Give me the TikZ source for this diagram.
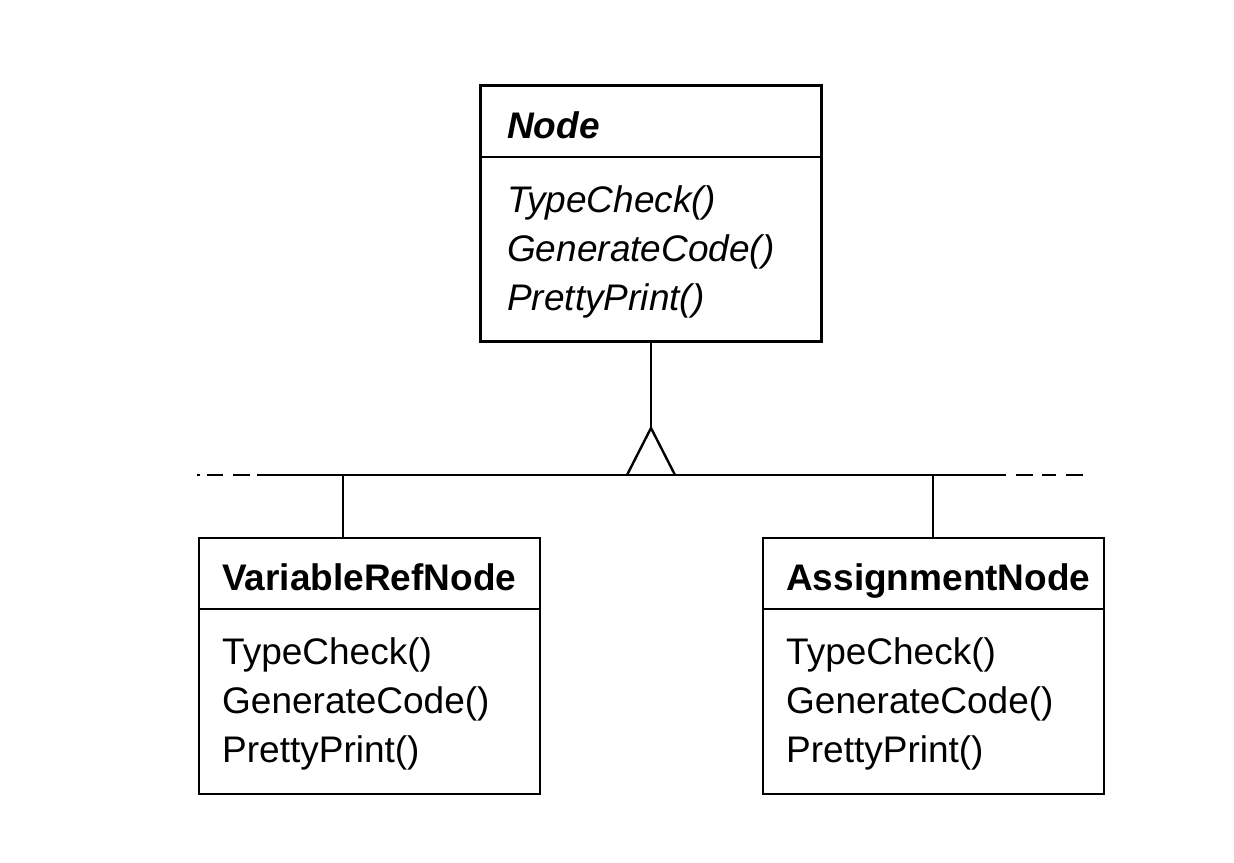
\documentclass[tikz,border=0pt]{standalone}
\usepackage{fontspec}
\setmainfont{Liberation Sans}
\begin{document}
\begin{tikzpicture}[x=1pt,y=-1pt,
  umlbox/.style={draw,line width=2.4pt,minimum width=341pt,minimum height=256pt,inner sep=0pt},
  txt/.style={anchor=base west,inner sep=0pt,font=\fontsize{37}{49}\selectfont},
  conn/.style={line width=2.4pt}]
\useasboundingbox (0,0) rectangle (1234,862);
% class boxes
\node[umlbox] (N) at (651,213.5) {};
\node[umlbox] (V) at (369.5,666) {};
\node[umlbox] (A) at (933.5,666) {};
% compartment lines
\draw[conn] (481,157) -- (821,157);
\draw[conn] (199,609) -- (540,609);
\draw[conn] (763,609) -- (1104,609);
% texts
\node[txt,font=\fontsize{37}{49}\selectfont\bfseries\itshape] (nt) at (507,138) {Node};
\node[txt,font=\fontsize{37}{49}\selectfont\itshape] (n1) at (507,212) {TypeCheck()};
\node[txt,font=\fontsize{37}{49}\selectfont\itshape] (n2) at (507,261) {GenerateCode()};
\node[txt,font=\fontsize{37}{49}\selectfont\itshape] (n3) at (507,310) {PrettyPrint()};
\node[txt,font=\fontsize{37}{49}\selectfont\bfseries] (vt) at (222,590) {VariableRefNode};
\node[txt] (v1) at (222,664) {TypeCheck()};
\node[txt] (v2) at (222,713) {GenerateCode()};
\node[txt] (v3) at (222,762) {PrettyPrint()};
\node[txt,font=\fontsize{37}{49}\selectfont\bfseries] (at) at (786,590) {AssignmentNode};
\node[txt] (a1) at (786,664) {TypeCheck()};
\node[txt] (a2) at (786,713) {GenerateCode()};
\node[txt] (a3) at (786,762) {PrettyPrint()};
% inheritance
\coordinate (apex) at (651,428);
\coordinate (tl) at (627,475);
\coordinate (tr) at (675,475);
\coordinate (busL) at (197,475);
\coordinate (busA) at (257,475);
\coordinate (busB) at (1006,475);
\coordinate (busC) at (1016,475);
\coordinate (busR) at (1083,475);
\coordinate (vtop) at (343,475);
\coordinate (atop) at (933,475);
\draw[conn] (N.south) -- (apex);
\draw[conn,line join=miter] (tl) -- (apex) -- (tr);
\draw[conn] (busA) -- (busB);
\draw[conn,dash pattern=on 3pt off 7pt on 16pt off 10pt on 17pt off 7pt] (busL) -- (busA);
\draw[conn,dash pattern=on 17pt off 9pt on 14pt off 10pt on 17pt off 10pt] (busC) -- (busR);
\draw[conn] (vtop) -- (vtop |- V.north);
\draw[conn] (atop) -- (atop |- A.north);
\end{tikzpicture}
\end{document}
